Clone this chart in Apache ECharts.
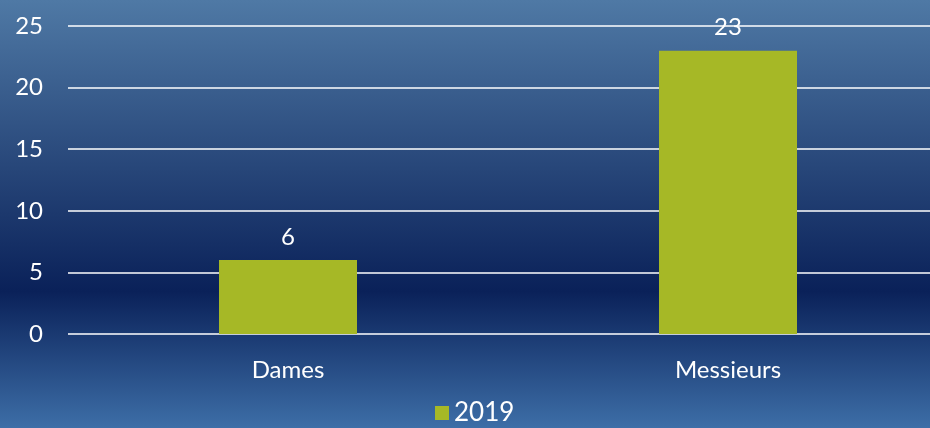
<!DOCTYPE html>
<html>
<head>
<meta charset="utf-8">
<script src="https://cdn.jsdelivr.net/npm/echarts@6/dist/echarts.min.js"></script>
<style>
  html, body { margin: 0; padding: 0; }
  #chart { width: 930px; height: 428px; }
</style>
</head>
<body>
<div id="chart"></div>
<script>
const categories = ['Dames', 'Messieurs']
const seriesName = '2019'
const values = [6, 23]

const chart = echarts.init(document.getElementById('chart'))
const textFont = 'Lato, "Open Sans", sans-serif'

const option = {
  backgroundColor: {
    type: 'linear', x: 0, y: 0, x2: 0, y2: 1,
    colorStops: [
      { offset: 0, color: '#4f79a5' },
      { offset: 0.68, color: '#0a2159' },
      { offset: 1, color: '#3d6ea7' }
    ]
  },
  textStyle: { fontFamily: textFont },
  // grid runs past the right edge, like the original slide
  grid: { left: 68, right: -18, top: 26, bottom: 94, containLabel: false, outerBoundsMode: 'none' },
  legend: {
    data: [seriesName],
    bottom: -3,
    left: 430,
    icon: 'rect',
    itemWidth: 14,
    itemHeight: 14,
    itemGap: 6,
    textStyle: { color: '#ffffff', fontSize: 26, fontFamily: textFont }
  },
  xAxis: {
    type: 'category',
    data: categories,
    axisLine: { show: false },
    axisTick: { show: false },
    axisLabel: { color: '#ffffff', fontSize: 24, margin: 24 }
  },
  yAxis: {
    type: 'value',
    min: 0,
    max: 25,
    interval: 5,
    axisLine: { show: false },
    axisTick: { show: false },
    axisLabel: { color: '#ffffff', fontSize: 24, margin: 25, align: 'right' },
    splitLine: { lineStyle: { color: '#ffffff', width: 1.5 } }
  },
  series: [
    {
      name: seriesName,
      type: 'bar',
      data: values,
      barWidth: 138,
      itemStyle: { color: '#a6b826' },
      label: {
        show: true,
        position: 'top',
        distance: 11,
        color: '#ffffff',
        fontSize: 24
      }
    }
  ]
}

chart.setOption(option)
</script>
</body>
</html>
